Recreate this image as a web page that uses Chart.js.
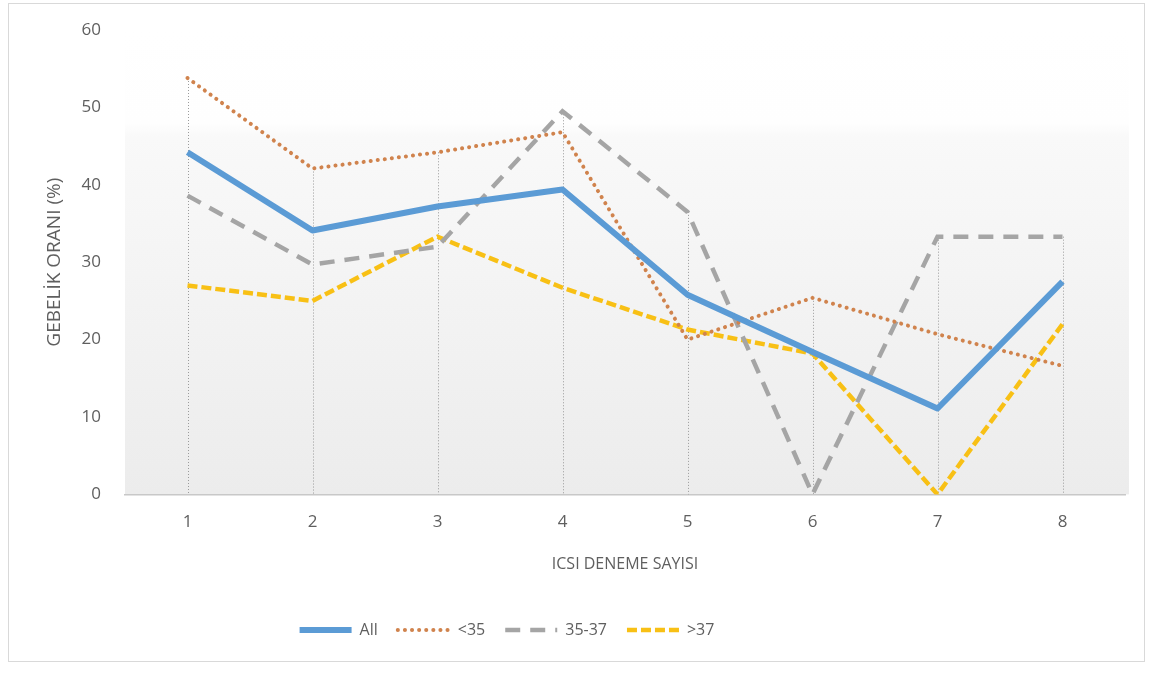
<!DOCTYPE HTML>
<html>
<head>
    <title>Gebelik Oranı - ICSI Deneme Sayısı</title>
    <meta charset="utf-8" />
    <script src="https://cdn.jsdelivr.net/npm/chart.js"></script>
    <style>
        body { margin: 0; background: #ffffff; }
        .chart-box {
            position: absolute;
            left: 8px; top: 3px;
            width: 1135px; height: 657px;
            border: 1px solid #d9d9d9;
        }
    </style>
</head>
<body>
    <div class="chart-box">
        <canvas id="gebelikChart" width="1135" height="657"></canvas>
    </div>

    <script>
        // ICSI attempt number on x axis, pregnancy rate (%) per age group
        const attempts = ['1', '2', '3', '4', '5', '6', '7', '8'];
        const allRate   = [44.2, 34.1, 37.2, 39.4, 25.8, 18.4, 11.1, 27.5];
        const under35   = [53.8, 42.1, 44.2, 46.8, 20.0, 25.4, 20.7, 16.6];
        const age35to37 = [38.6, 29.7, 32.0, 49.5, 36.5, 0, 33.3, 33.3];
        const over37    = [27.0, 25.0, 33.3, 26.7, 21.3, 18.2, 0, 22.0];
        const yTicks    = [0, 10, 20, 30, 40, 50, 60];

        const textColor = '#5f5f5f';
        const fontFamily = "'Open Sans', 'Liberation Sans', sans-serif";

        // light grey fade behind the plot
        const plotBackground = {
            id: 'plotBackground',
            beforeDraw(chart) {
                const { ctx, chartArea: a } = chart;
                const g = ctx.createLinearGradient(0, a.top, 0, a.bottom);
                g.addColorStop(0, '#ffffff');
                g.addColorStop(0.2, '#fefefe');
                g.addColorStop(0.23, '#f9f9f9');
                g.addColorStop(1, '#ececec');
                ctx.save();
                ctx.fillStyle = g;
                ctx.fillRect(a.left, a.top, a.right - a.left + 4, a.bottom - a.top);
                ctx.restore();
            }
        };

        // drop lines: dotted vertical from the highest point of each category to the axis
        const dropLines = {
            id: 'dropLines',
            beforeDatasetsDraw(chart) {
                const { ctx, scales } = chart;
                const sets = chart.data.datasets;
                ctx.save();
                ctx.strokeStyle = '#9a9a9a';
                ctx.lineWidth = 1;
                ctx.setLineDash([1, 2]);
                attempts.forEach((c, i) => {
                    const top = Math.max(...sets.map(s => s.data[i]));
                    const x = Math.round(scales.x.getPixelForValue(i)) + 0.5;
                    ctx.beginPath();
                    ctx.moveTo(x, scales.y.getPixelForValue(top));
                    ctx.lineTo(x, scales.y.getPixelForValue(0));
                    ctx.stroke();
                });
                ctx.restore();
            }
        };

        // legend sits a little left of centre
        const legendShift = {
            id: 'legendShift',
            afterLayout(chart) {
                if (chart.legend) chart.legend.right -= 120;
            }
        };

        const ctx = document.getElementById('gebelikChart').getContext('2d');
        new Chart(ctx, {
            type: 'line',
            data: {
                labels: attempts,
                datasets: [
                    {
                        label: 'All',
                        data: allRate,
                        borderColor: '#5B9BD5',
                        borderWidth: 6,
                        borderJoinStyle: 'round'
                    },
                    {
                        label: '<35',
                        data: under35,
                        borderColor: '#D0834D',
                        borderWidth: 4,
                        borderCapStyle: 'round',
                        borderDash: [0.1, 7]
                    },
                    {
                        label: '35-37',
                        data: age35to37,
                        borderColor: '#A5A5A5',
                        borderWidth: 4.5,
                        borderDash: [15, 10]
                    },
                    {
                        label: '>37',
                        data: over37,
                        borderColor: '#F8C015',
                        borderWidth: 4.5,
                        borderDash: [10, 4]
                    }
                ]
            },
            options: {
                responsive: false,
                animation: false,
                elements: { point: { radius: 0 }, line: { tension: 0 } },
                layout: { padding: { top: 26, right: 19, left: 0, bottom: 13 } },
                plugins: {
                    legend: {
                        position: 'bottom',
                        labels: {
                            usePointStyle: true,
                            pointStyle: 'line',
                            pointStyleWidth: 52,
                            boxHeight: 4,
                            padding: 20,
                            color: textColor,
                            font: { family: fontFamily, size: 16 },
                            generateLabels(chart) {
                                return chart.data.datasets.map((ds, i) => ({
                                    text: ds.label,
                                    strokeStyle: ds.borderColor,
                                    fillStyle: ds.borderColor,
                                    lineWidth: ds.borderWidth,
                                    lineDash: ds.borderDash || [],
                                    lineCap: ds.borderCapStyle || 'butt',
                                    pointStyle: 'line',
                                    fontColor: textColor,
                                    datasetIndex: i
                                }));
                            }
                        }
                    },
                    tooltip: { enabled: false }
                },
                scales: {
                    x: {
                        type: 'category',
                        offset: true,
                        grid: { display: false, drawTicks: false },
                        border: { display: true, color: '#c8c8c8', width: 1.5 },
                        ticks: { color: textColor, padding: 18, font: { family: fontFamily, size: 17 } },
                        title: {
                            display: true,
                            text: 'ICSI DENEME SAYISI',
                            color: textColor,
                            padding: { top: 4, bottom: 28 },
                            font: { family: fontFamily, size: 16 }
                        }
                    },
                    y: {
                        min: 0,
                        max: 60,
                        afterBuildTicks(scale) {
                            scale.ticks = yTicks.map(v => ({ value: v }));
                        },
                        afterFit(scale) {
                            scale.width = 116;
                            // top/bottom room is set by the layout padding instead
                            scale.paddingTop = 0;
                            scale.paddingBottom = 0;
                        },
                        grid: { display: false, drawTicks: false },
                        border: { display: false },
                        ticks: { color: textColor, padding: 24, font: { family: fontFamily, size: 17 } },
                        title: {
                            display: true,
                            text: 'GEBELİK ORANI (%)',
                            color: textColor,
                            padding: { top: 34, bottom: 0 },
                            font: { family: fontFamily, size: 19 }
                        }
                    }
                }
            },
            plugins: [plotBackground, dropLines, legendShift]
        });
    </script>
</body>
</html>
